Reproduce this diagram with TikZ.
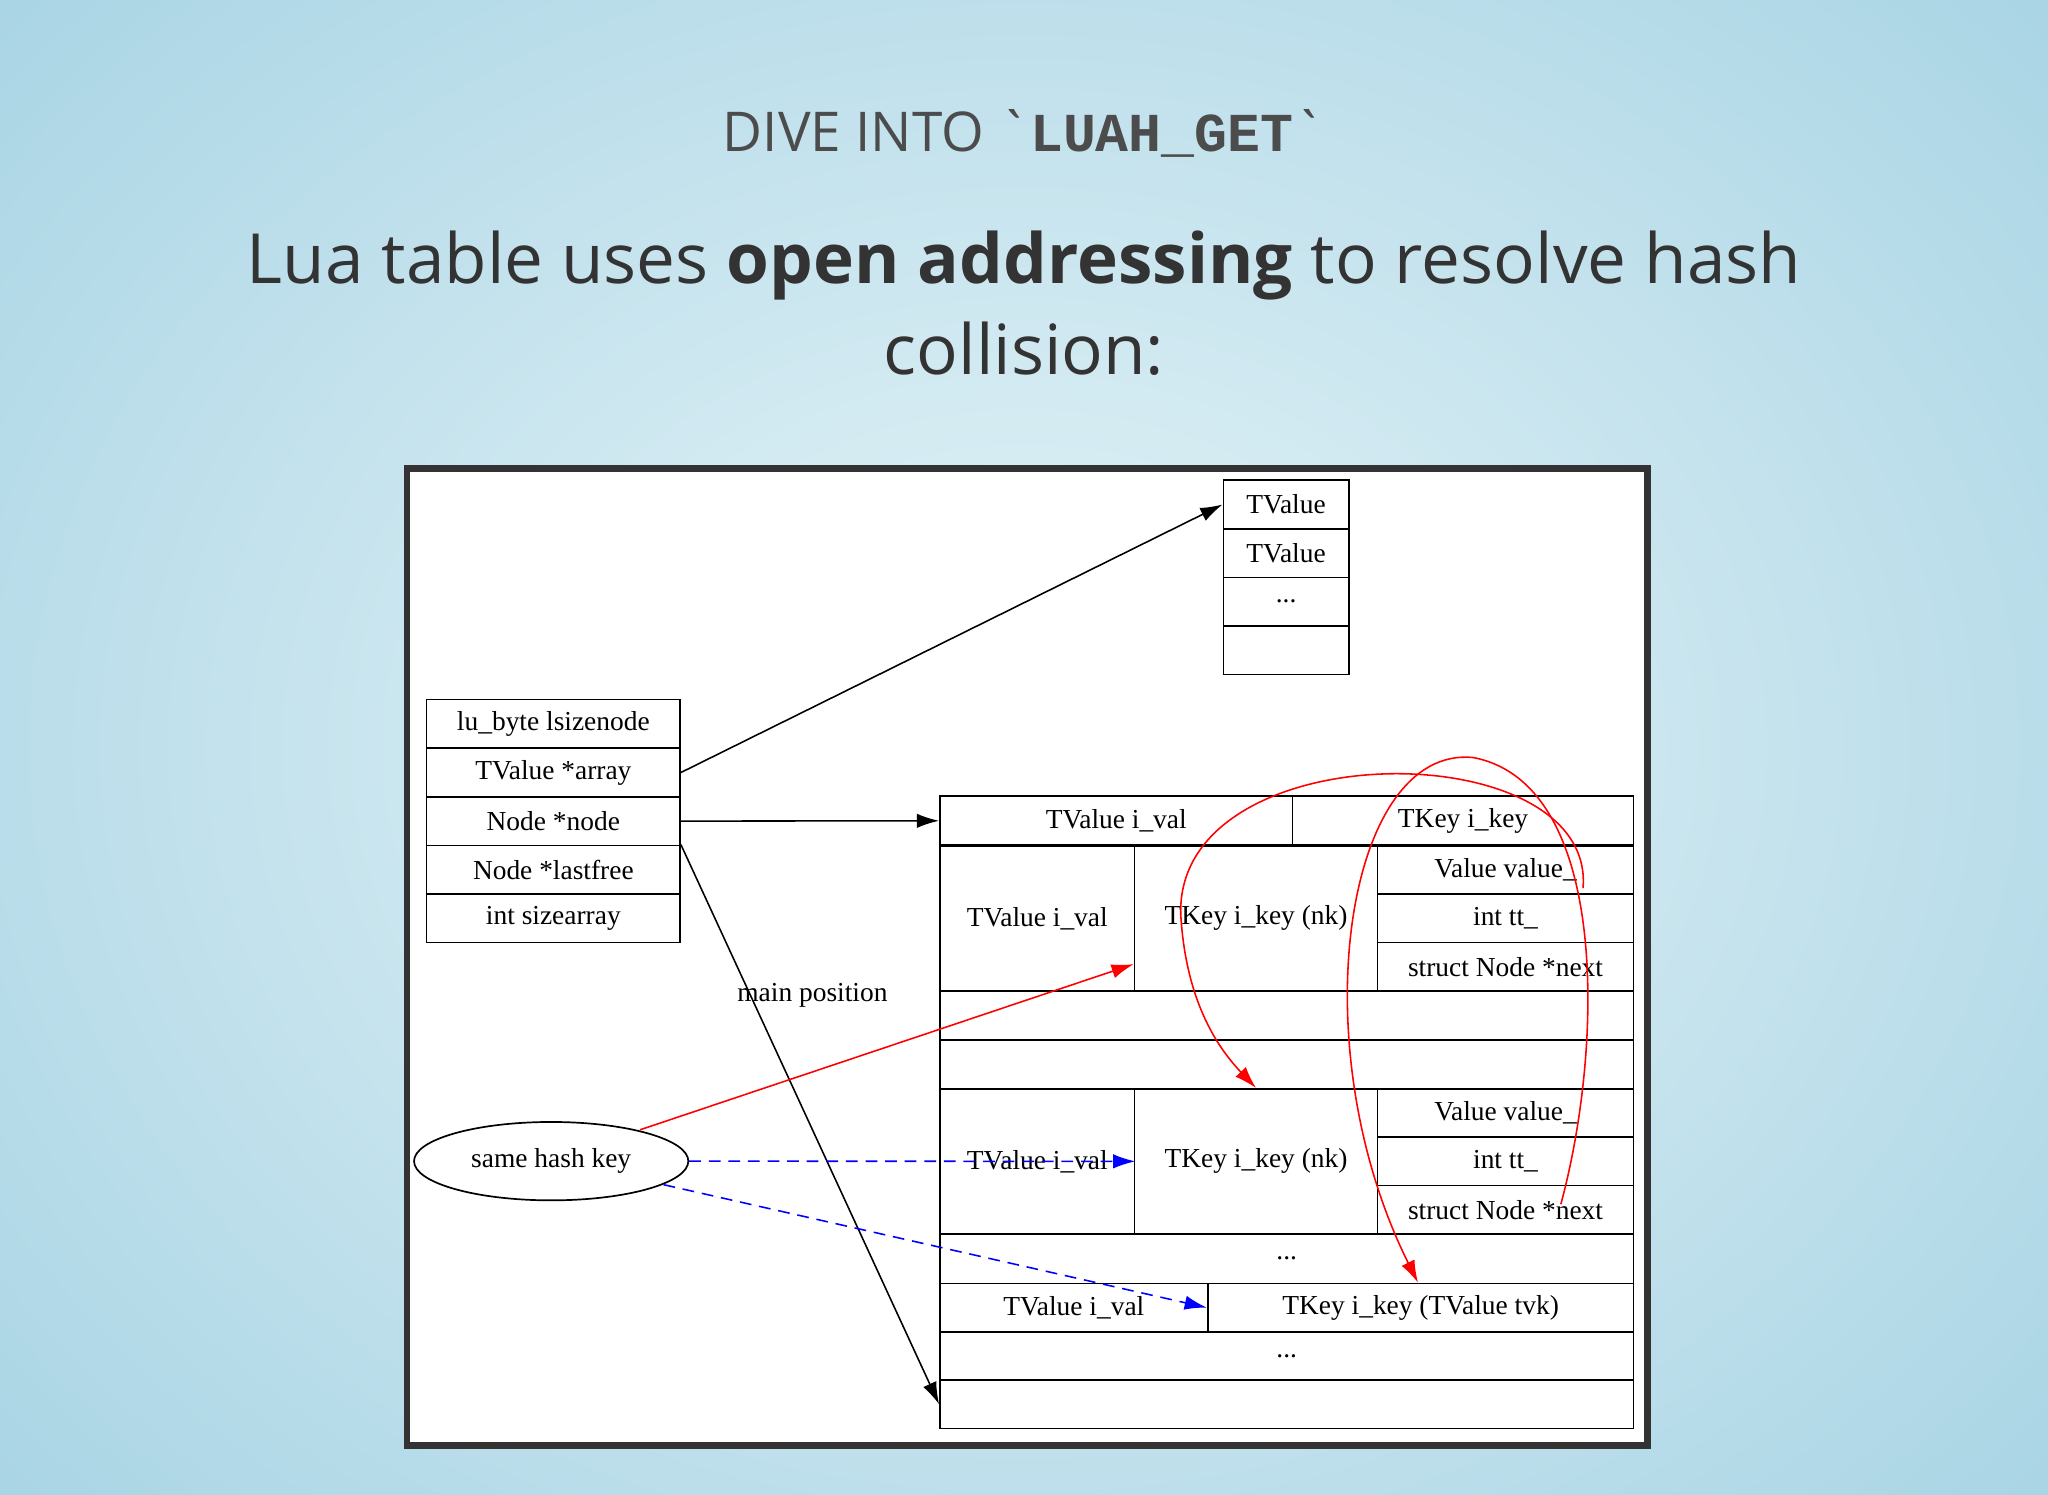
\documentclass[tikz,border=0pt]{standalone}
\usepackage{fontspec}
\setmainfont{Liberation Serif}
\newfontfamily\titlefont{Open Sans}
\newfontfamily\monofont{Liberation Mono}
\usetikzlibrary{arrows.meta,shapes.geometric,calc}
\definecolor{bgin}{RGB}{230,244,248}
\definecolor{bgout}{RGB}{168,212,228}
\begin{document}
\begin{tikzpicture}[x=1pt,y=-1pt,
  cell/.style={draw,line width=1.3pt,font=\fontsize{21}{24}\selectfont,inner sep=0pt,anchor=north west},
  blk/.style={-{Latex[length=17pt,width=11pt]},line width=1.2pt},
  redl/.style={-{Latex[length=17pt,width=11pt]},line width=1.2pt,red},
  bluel/.style={-{Latex[length=17pt,width=11pt]},line width=1.2pt,blue,dash pattern=on 9pt off 6pt}]
\useasboundingbox (0,0) rectangle (1568,1144);
\shade[inner color=bgin, outer color=bgout] (-300,-300) rectangle (1868,1444);
\node[font=\titlefont\fontsize{42}{50}\selectfont,text=black!70] (title) at (784,102) {DIVE INTO `{\monofont\bfseries LUAH\_GET}`};
\node[font=\titlefont\fontsize{53}{70}\selectfont,text=black!80,align=center] (sub) at (784,232) {Lua table uses \textbf{open addressing} to resolve hash\\collision:};
\node[draw=black!80,line width=5pt,fill=white,minimum width=950pt,minimum height=748pt,anchor=north west] (frame) at (309,356) {};
% left struct
\foreach \t [count=\i] in {lu\_byte lsizenode,TValue *array,Node *node,Node *lastfree,int sizearray}
  \node[cell,minimum width=194pt,minimum height=37.2pt] (s\i) at (326,{535+(\i-1)*37.2}) {\t};
% top array
\node[cell,minimum width=96pt,minimum height=37.2pt] (a1) at (936,367) {TValue};
\node[cell,minimum width=96pt,minimum height=37.2pt] (a2) at (936,404.2) {TValue};
\node[cell,minimum width=96pt,minimum height=37.2pt] (a3) at (936,441.4) {...};
\node[cell,minimum width=96pt,minimum height=37.2pt] (a4) at (936,478.6) {};
% node table
\node[cell,minimum width=270pt,minimum height=37.5pt] (r1a) at (719,609) {TValue i\_val};
\node[cell,minimum width=261pt,minimum height=37.5pt] (r1b) at (989,609) {TKey i\_key};
\foreach \y/\n in {647/b,833/c}{
  \node[cell,minimum width=149pt,minimum height=111pt] (\n v) at (719,\y) {TValue i\_val};
  \node[cell,minimum width=186pt,minimum height=111pt] (\n k) at (868,\y) {TKey i\_key (nk)};
  \node[cell,minimum width=196pt,minimum height=37pt] (\n 1) at (1054,\y) {Value value\_};
  \node[cell,minimum width=196pt,minimum height=37pt] (\n 2) at (1054,\y+37) {int tt\_};
  \node[cell,minimum width=196pt,minimum height=37pt] (\n 3) at (1054,\y+74) {struct Node *next};
}
\node[cell,minimum width=531pt,minimum height=37.5pt] (e1) at (719,758) {};
\node[cell,minimum width=531pt,minimum height=37.5pt] (e2) at (719,795.5) {};
\node[cell,minimum width=531pt,minimum height=38pt] (d1) at (719,944) {...};
\node[cell,minimum width=205pt,minimum height=37pt] (tv) at (719,982) {TValue i\_val};
\node[cell,minimum width=326pt,minimum height=37pt] (tk) at (924,982) {TKey i\_key (TValue tvk)};
\node[cell,minimum width=531pt,minimum height=37pt] (d2) at (719,1019) {...};
\node[cell,minimum width=531pt,minimum height=37pt] (last) at (719,1056) {};
% ellipse
\node[draw,ellipse,line width=1.3pt,minimum width=210pt,minimum height=60pt,font=\fontsize{21}{24}\selectfont] (key) at (422,889) {same hash key};
% arrows
\draw[blk] (s2.east) -- (a1.west);
\draw[blk] (s3.east) -- (r1a.west);
\draw[blk] (s4.north east) -- (last.west);
\node[font=\fontsize{21}{24}\selectfont] (mp) at (622,762) {main position};
\coordinate (ks) at (490,865);
\coordinate (bt) at ($(bk.west)+(0,35)$);
\draw[redl] (ks) -- (bt);
\draw[bluel] (key.east) -- (cv.east);
\coordinate (kb) at (508,907);
\draw[bluel] (kb) -- (tk.west);
\coordinate (ra) at (1212,680);
\draw[redl] (ra) .. controls (1222,560) and (900,560) .. (904,700) .. controls (908,770) and (935,805) .. (ck.north);
\coordinate (rb) at (1195,922);
\coordinate (tkt) at ($(tk.north)+(-2,0)$);
\draw[redl] (rb) .. controls (1228,800) and (1232,600) .. (1128,580) .. controls (1030,570) and (995,800) .. (tkt);
\end{tikzpicture}
\end{document}
